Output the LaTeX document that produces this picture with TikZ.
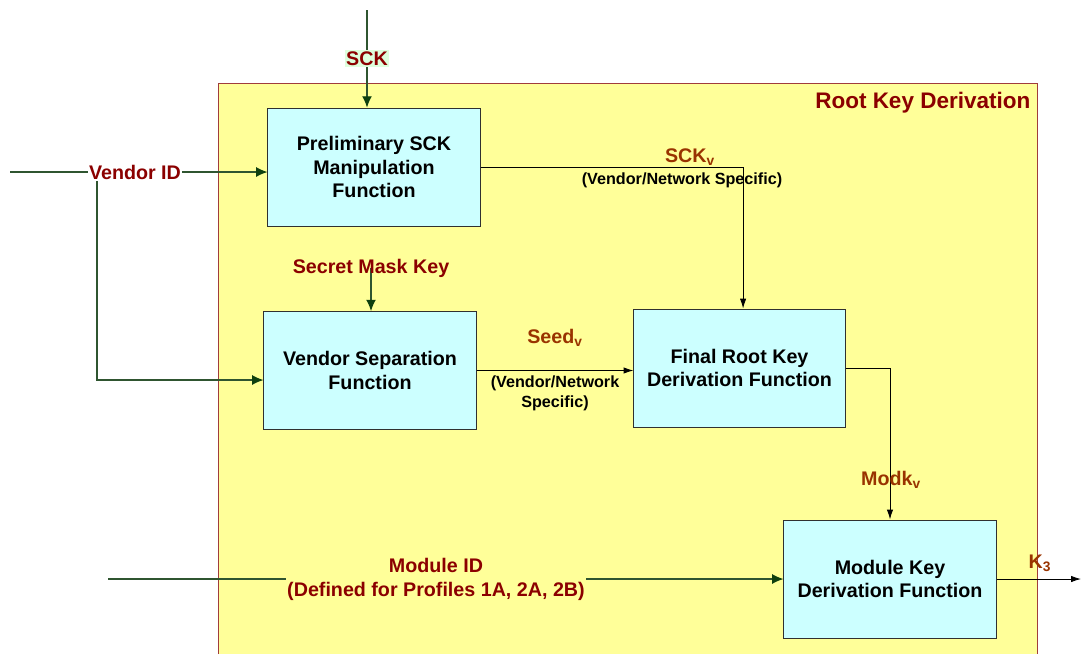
\documentclass[tikz,border=0pt]{standalone}
\usepackage{fontspec}
\setmainfont{Liberation Sans}
\usetikzlibrary{arrows.meta}
\definecolor{rkdyellow}{HTML}{FFFF99}
\definecolor{rkdcyan}{HTML}{CCFFFF}
\definecolor{rkdred}{HTML}{8B0000}
\definecolor{rkdbrown}{HTML}{993300}
\definecolor{rkdgreen}{HTML}{2F5530}
\definecolor{rkdtip}{HTML}{0F400F}
\definecolor{rkdgreenbg}{HTML}{DDFFDD}
\definecolor{rkdborder}{HTML}{A03C3C}
\definecolor{rkdframe}{HTML}{303030}

\begin{document}
\begin{tikzpicture}[x=0.025cm, y=-0.025cm,
	fbox/.style={draw=rkdframe, fill=rkdcyan, line width=0.7pt, minimum width=5.3cm, minimum height=2.95cm, align=center, font=\fontsize{14}{16.7}\selectfont\bfseries},
	inlbl/.style={text=rkdred, inner sep=1pt, align=center, font=\fontsize{14}{17}\selectfont\bfseries},
	sublbl/.style={text=rkdbrown, inner sep=1pt, font=\fontsize{14}{17}\selectfont\bfseries},
	note/.style={inner sep=1pt, align=center, font=\fontsize{11.5}{14}\selectfont\bfseries},
	inarrow/.style={draw=rkdgreen, line width=0.8pt, -{Latex[length=8pt, width=7pt, color=rkdtip]}},
	flow/.style={draw=black, line width=0.6pt, -{Latex[length=7pt, width=4.5pt]}}]
	\useasboundingbox (0,0) rectangle (1081,654);
	\draw[draw=rkdborder, fill=rkdyellow, line width=0.6pt] (218,654) -- (218,83) -- (1037,83) -- (1037,654);
	\node[inlbl, anchor=east, font=\fontsize{16}{19}\selectfont\bfseries] (title) at (1032,103) {Root Key Derivation};

	\node[fbox] (prelim) at (374,167) {Preliminary SCK\\Manipulation\\Function};
	\node[fbox] (vsep) at (370,370.5) {Vendor Separation\\Function};
	\node[fbox, minimum width=5.275cm] (final) at (739.5,368) {Final Root Key\\Derivation Function};
	\node[fbox] (modkey) at (890,579) {Module Key\\Derivation Function};

	\coordinate (sckin) at (367,10);
	\draw[inarrow] (sckin) -- node[inlbl, fill=rkdgreenbg] (sck) {SCK} (sckin |- prelim.north);

	\coordinate (vidin) at (10,172);
	\coordinate (vidbr) at (97,172);
	\coordinate (vidturn) at (97,380);
	\draw[inarrow] (vidin) -- (vidin -| prelim.west);
	\draw[inarrow] (vidbr) -- (vidturn) -- (vidturn -| vsep.west);
	\node[inlbl, fill=white] (vid) at (135,172) {Vendor ID};

	\coordinate (smkc) at (371,268);
	\draw[inarrow] (smkc) -- (smkc |- vsep.north);
	\node[inlbl] (smk) at (smkc) {Secret Mask Key};

	\draw[flow] (prelim.east) -| ([xshift=0.09cm]final.north);
	\node[sublbl] (sckv) at (690,157) {SCK\textsubscript{v}};
	\node[note] (sckvnote) at (682,180) {(Vendor/Network Specific)};

	\draw[flow] (vsep.east) -- (vsep.east -| final.west);
	\node[sublbl] (seedv) at (555,338) {Seed\textsubscript{v}};
	\node[note] (seedvnote) at (555,393) {(Vendor/Network\\Specific)};

	\draw[flow] (final.east) -| (modkey.north);
	\node[sublbl] (modkv) at (891,480) {Modk\textsubscript{v}};

	\coordinate (midin) at (108,579);
	\draw[inarrow] (midin) -- (modkey.west);
	\node[inlbl, fill=rkdyellow] (mid) at (436,579) {Module ID\\(Defined for Profiles 1A, 2A, 2B)};

	\coordinate (kout) at (1081,579);
	\draw[flow] (modkey.east) -- (kout);
	\node[sublbl] (k3) at (1040,563) {K\textsubscript{3}};
\end{tikzpicture}
\end{document}
